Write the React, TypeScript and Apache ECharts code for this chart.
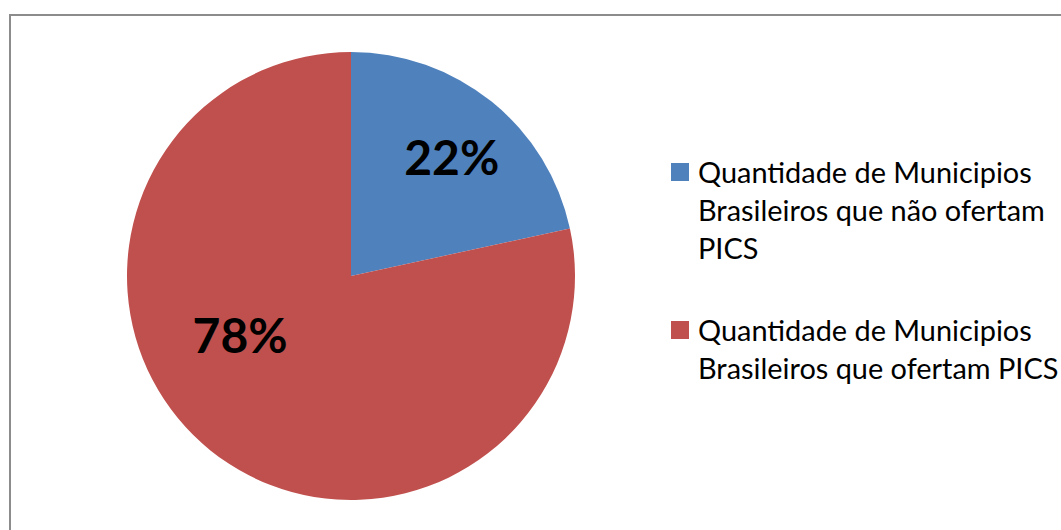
import React, { useEffect, useRef } from "react";
import * as echarts from "echarts";

const categories = [
  "Quantidade de Municipios Brasileiros que não ofertam PICS",
  "Quantidade de Municipios Brasileiros que ofertam PICS",
];
const legendLines = [
  ["Quantidade de Municipios", "Brasileiros que não ofertam", "PICS"],
  ["Quantidade de Municipios", "Brasileiros que ofertam PICS"],
];
const values = [21.6, 78.4];
const colors = ["#4F81BD", "#C0504D"];
// label offsets from the pie centre, as fractions of radius
const labelOffsets = [
  [0.45, -0.535],
  [-0.495, 0.26],
];

const CX = 351;
const CY = 276;
const R = 224;
const FONT = "Lato, 'Liberation Sans', sans-serif";

export default function App() {
  const ref = useRef<HTMLDivElement>(null);
  useEffect(() => {
    if (!ref.current) return;
    const chart = echarts.init(ref.current, undefined, { renderer: "svg" });
    const legendGraphics: any[] = [];
    const legendTop = [152, 310];
    legendLines.forEach((lines, i) => {
      legendGraphics.push({
        type: "rect",
        shape: { x: 671, y: legendTop[i] + 11, width: 18, height: 18 },
        style: { fill: colors[i] },
      });
      legendGraphics.push({
        type: "text",
        x: 698,
        y: legendTop[i],
        style: {
          text: lines.join("\n"),
          font: `28.9px ${FONT}`,
          lineHeight: 38,
          fill: "#000",
          verticalAlign: "top",
          align: "left",
        },
      });
    });
    chart.setOption({
      animation: false,
      backgroundColor: "#fff",
      graphic: [
        {
          type: "rect",
          shape: { x: 10, y: 15, width: 1200, height: 700 },
          style: { fill: "none", stroke: "#8c8c8c", lineWidth: 2 },
          z: -1,
        },
        ...legendGraphics,
      ],
      series: [
        {
          type: "pie",
          center: [CX, CY],
          radius: R,
          startAngle: 90,
          clockwise: true,
          silent: true,
          percentPrecision: 0,
          data: categories.map((name, i) => ({
            name,
            value: values[i],
            itemStyle: { color: colors[i] },
          })),
          itemStyle: { borderWidth: 0 },
          label: {
            show: true,
            position: "inside",
            formatter: "{d}%",
            fontFamily: FONT,
            fontWeight: "bold",
            fontSize: 48,
            color: "#000",
          },
          labelLine: { show: false },
          labelLayout: (params: any) => {
            const o = labelOffsets[params.dataIndex];
            return {
              x: CX + o[0] * R,
              y: CY + o[1] * R,
              align: "center",
              verticalAlign: "middle",
            };
          },
        },
      ],
    });
    return () => chart.dispose();
  }, []);
  return (
    <div
      ref={ref}
      style={{ position: "fixed", left: 0, top: 0, width: 1061, height: 530 }}
    />
  );
}
